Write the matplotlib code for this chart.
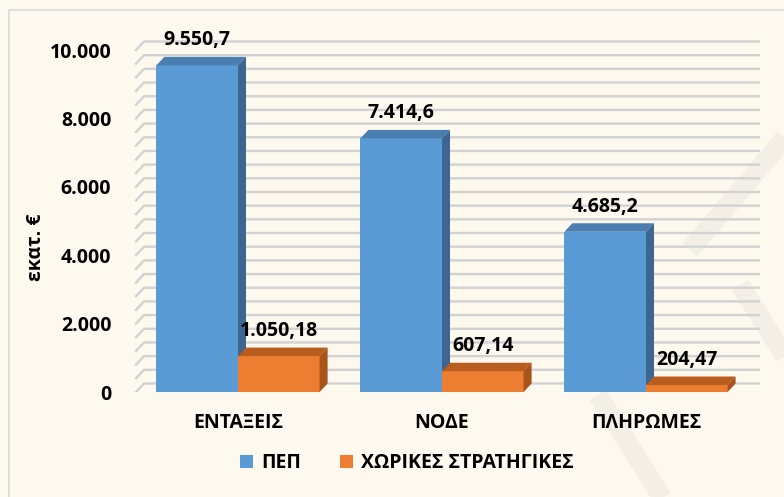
import numpy as np
import matplotlib.pyplot as plt
from matplotlib.patches import Polygon, Rectangle
from matplotlib.lines import Line2D

plt.rcParams['font.family'] = ['Open Sans', 'DejaVu Sans']
plt.rcParams['font.weight'] = 'bold'

# ---- data ----
categories = ['ΕΝΤΑΞΕΙΣ', 'ΝΟΔΕ', 'ΠΛΗΡΩΜΕΣ']
pep = [9550.7, 7414.6, 4685.2]
xorikes = [1050.18, 607.14, 204.47]
pep_labels = ['9.550,7', '7.414,6', '4.685,2']
xor_labels = ['1.050,18', '607,14', '204,47']
series_names = ['ΠΕΠ', 'ΧΩΡΙΚΕΣ ΣΤΡΑΤΗΓΙΚΕΣ']
yticks = [0, 2000, 4000, 6000, 8000, 10000]
ytick_labels = ['0', '2.000', '4.000', '6.000', '8.000', '10.000']

# colours (front, top, side)
blue = ('#5b9bd5', '#4a7db0', '#3d6791')
orange = ('#ed7d31', '#b95d1f', '#a8531b')
bg = '#fdf9ee'

W, H = 784, 497
fig = plt.figure(figsize=(W/100, H/100), dpi=100, facecolor=bg)

# light frame and faint watermark
fig.add_artist(Rectangle((9/W, -0.05), 1.0, 1 - 10/H + 0.05, transform=fig.transFigure,
                         fill=False, edgecolor='#d9d9d9', lw=1.2, zorder=0))
for (x0, y0), (x1, y1) in [((800, 120), (690, 250)), ((598, 395), (670, 510)),
                           ((740, 285), (800, 380))]:
    fig.add_artist(Line2D([x0/W, x1/W], [1 - y0/H, 1 - y1/H], transform=fig.transFigure,
                          color='#f3efe6', lw=14, zorder=0, solid_capstyle='butt'))

# axes placed so that 0 sits at y=392px, 10000 at y=50px
px_per_val = (392 - 50) / 10000
ytop = (392 - 29) / px_per_val
ax = fig.add_axes([128/W, (H-392)/H, (760-128)/W, (392-29)/H])
ax.set_facecolor('none')
px_per_cat = 204
ax.set_xlim((128-238)/px_per_cat, (760-238)/px_per_cat)
ax.set_ylim(0, ytop)
for s in ax.spines.values():
    s.set_visible(False)

dx = 8/px_per_cat          # depth offset in data units
dy = 8.5/px_per_val
x_wall = -0.5

# back wall gridlines
for v in np.arange(0, 10001, 400):
    ax.plot([x_wall, x_wall+dx, 2.56], [v, v+dy, v+dy], color='#d2d2d2', lw=1.7,
            zorder=1, solid_joinstyle='round')

w = 0.4
x = np.arange(len(categories))


def bars3d(xs, vals, cols, label):
    ax.bar(xs, vals, width=w, align='edge', color=cols[0], zorder=3, label=label)
    for xi, h in zip(xs, vals):
        ax.add_patch(Polygon([(xi, h), (xi+dx, h+dy), (xi+w+dx, h+dy), (xi+w, h)],
                             closed=True, color=cols[1], zorder=3, lw=0))
        ax.add_patch(Polygon([(xi+w, 0), (xi+w+dx, dy), (xi+w+dx, h+dy), (xi+w, h)],
                             closed=True, color=cols[2], zorder=3, lw=0))


bars3d(x - w, pep, blue, series_names[0])
bars3d(x, xorikes, orange, series_names[1])

for xi, h, t in zip(x - w/2, pep, pep_labels):
    ax.annotate(t, (xi, h+dy), xytext=(0, 12), textcoords='offset points',
                ha='center', va='center', fontsize=14, fontweight='bold', zorder=5)
for xi, h, t in zip(x + w/2, xorikes, xor_labels):
    ax.annotate(t, (xi, h+dy), xytext=(0, 12), textcoords='offset points',
                ha='center', va='center', fontsize=14, fontweight='bold', zorder=5)

ax.set_yticks(yticks)
ax.set_yticklabels(ytick_labels, fontsize=14, fontweight='bold')
ax.set_xticks(x)
ax.set_xticklabels(categories, fontsize=14, fontweight='bold')
ax.tick_params(axis='y', length=0, pad=12)
ax.tick_params(axis='x', length=0, pad=15)

fig.text(36/W, 1 - 247/H, 'εκατ. €', rotation=90, ha='center', va='center',
         fontsize=14, fontweight='bold')

leg = ax.legend(loc='center', bbox_to_anchor=(407/W, 1 - 463/H), bbox_transform=fig.transFigure,
                ncol=2, frameon=False, fontsize=14, handlelength=0.65, handleheight=0.65,
                handletextpad=0.45, columnspacing=2.0, borderaxespad=0)
for t in leg.get_texts():
    t.set_fontweight('bold')

fig.savefig('out.png', dpi=100, facecolor=bg)
